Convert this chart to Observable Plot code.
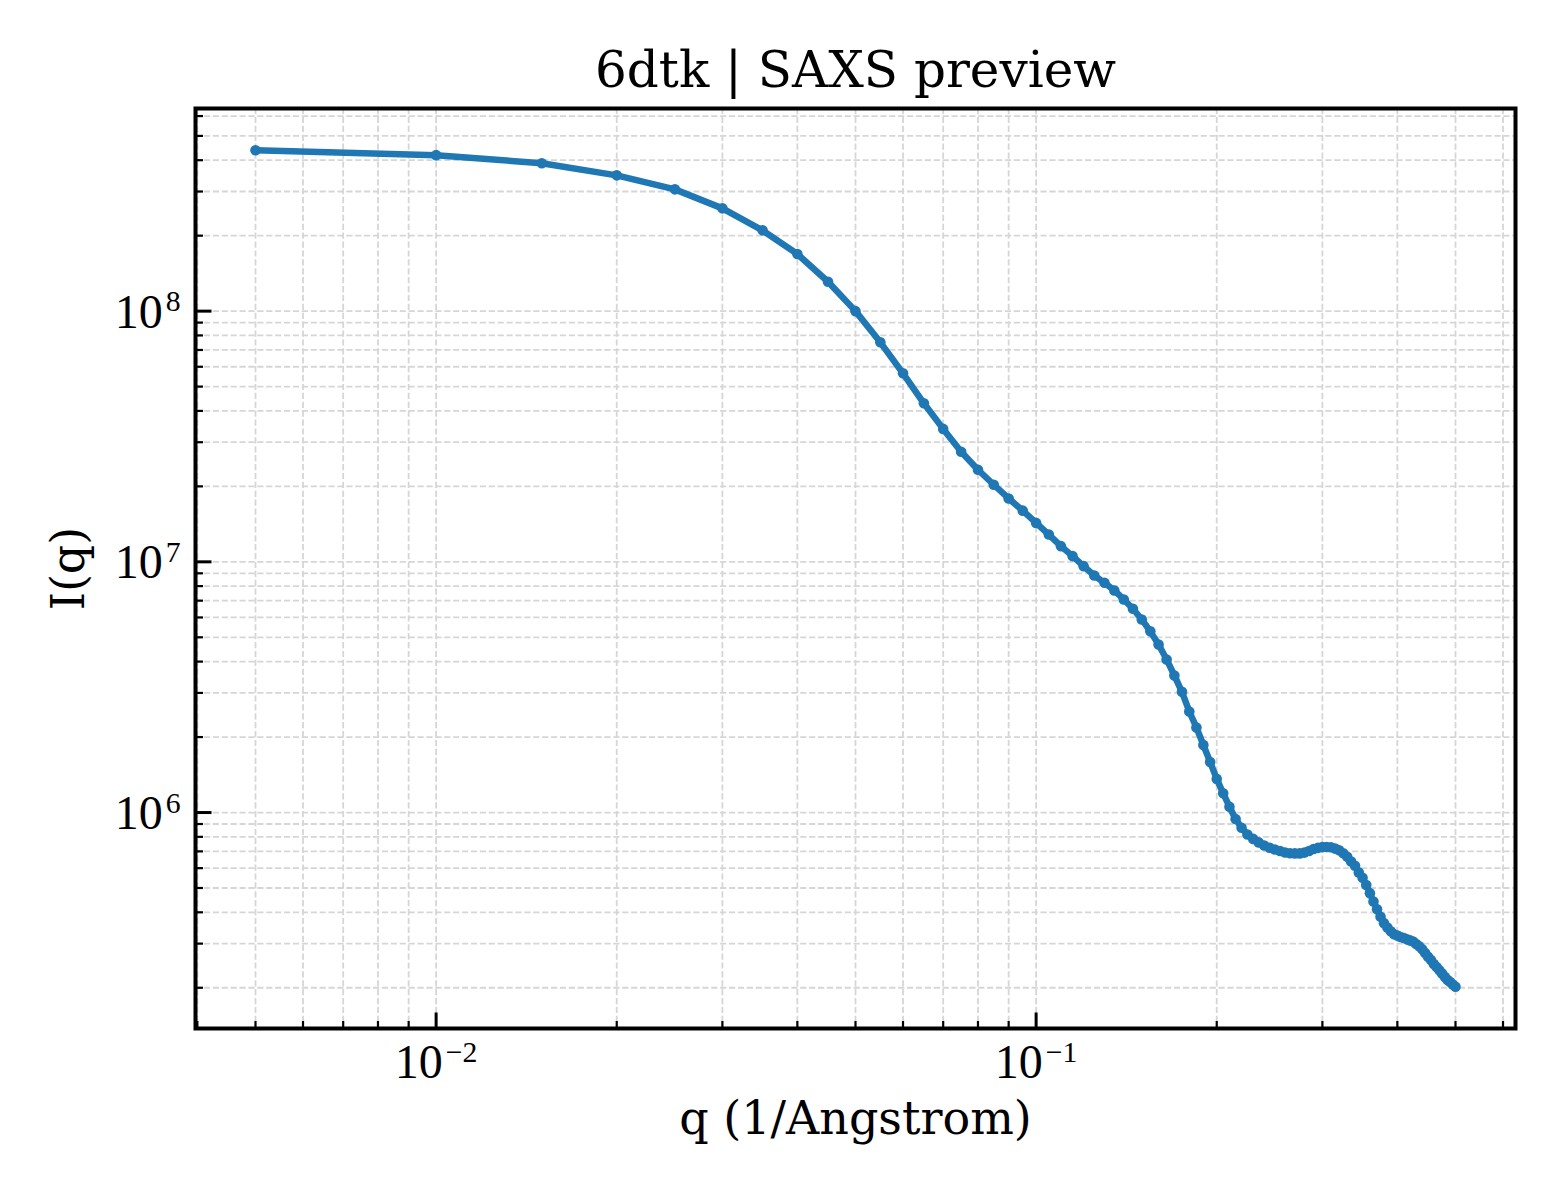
<!DOCTYPE html>
<html>
<head>
<meta charset="utf-8">
<script src="https://cdn.jsdelivr.net/npm/d3@7"></script>
<script src="https://cdn.jsdelivr.net/npm/@observablehq/plot@0.6"></script>
<style>
html, body { margin: 0; padding: 0; background: #ffffff; }
#chart { width: 1560px; height: 1200px; }
</style>
</head>
<body>
<div id="chart"></div>
<script>
// ---- data ----
const q = [
  0.005, 0.010, 0.015, 0.020, 0.025, 0.030, 0.035, 0.040, 0.045, 0.050,
  0.055, 0.060, 0.065, 0.070, 0.075, 0.080, 0.085, 0.090, 0.095, 0.100,
  0.105, 0.110, 0.115, 0.120, 0.125, 0.130, 0.135, 0.140, 0.145, 0.150,
  0.155, 0.160, 0.165, 0.170, 0.175, 0.180, 0.185, 0.190, 0.195, 0.200,
  0.205, 0.210, 0.215, 0.220, 0.225, 0.230, 0.235, 0.240, 0.245, 0.250,
  0.255, 0.260, 0.265, 0.270, 0.275, 0.280, 0.285, 0.290, 0.295, 0.300,
  0.305, 0.310, 0.315, 0.320, 0.325, 0.330, 0.335, 0.340, 0.345, 0.350,
  0.355, 0.360, 0.365, 0.370, 0.375, 0.380, 0.385, 0.390, 0.395, 0.400,
  0.405, 0.410, 0.415, 0.420, 0.425, 0.430, 0.435, 0.440, 0.445, 0.450,
  0.455, 0.460, 0.465, 0.470, 0.475, 0.480, 0.485, 0.490, 0.495, 0.500
];
const intensity = [
  4.38e8, 4.19e8, 3.89e8, 3.48e8, 3.06e8, 2.57e8, 2.10e8, 1.69e8, 1.31e8, 1.00e8,
  7.51e7, 5.65e7, 4.29e7, 3.39e7, 2.75e7, 2.33e7, 2.03e7, 1.79e7, 1.60e7, 1.43e7,
  1.285e7, 1.155e7, 1.054e7, 9.61e6, 8.82e6, 8.25e6, 7.69e6, 7.08e6, 6.50e6, 5.89e6,
  5.28e6, 4.68e6, 4.08e6, 3.52e6, 3.03e6, 2.53e6, 2.185e6, 1.861e6, 1.591e6, 1.362e6,
  1.194e6, 1.055e6, 9.42e5, 8.70e5, 8.17e5, 7.85e5, 7.60e5, 7.39e5, 7.24e5, 7.12e5,
  7.02e5, 6.93e5, 6.88e5, 6.87e5, 6.87e5, 6.92e5, 7.02e5, 7.15e5, 7.23e5, 7.28e5,
  7.29e5, 7.27e5, 7.18e5, 7.07e5, 6.88e5, 6.66e5, 6.38e5, 6.13e5, 5.77e5, 5.49e5,
  5.14e5, 4.77e5, 4.42e5, 4.11e5, 3.84e5, 3.62e5, 3.48e5, 3.36e5, 3.27e5, 3.23e5,
  3.19e5, 3.16e5, 3.12e5, 3.09e5, 3.06e5, 2.99e5, 2.93e5, 2.85e5, 2.75e5, 2.66e5,
  2.58e5, 2.49e5, 2.42e5, 2.35e5, 2.28e5, 2.21e5, 2.15e5, 2.11e5, 2.06e5, 2.02e5
];
const titleText = "6dtk | SAXS preview";
const xLabelText = "q (1/Angstrom)";
const yLabelText = "I(q)";
const xMajorTicks = [0.01, 0.1];
const xTickLabels = ["10^\u22122", "10^\u22121"];
const yMajorTicks = [1e6, 1e7, 1e8];
const yTickLabels = ["10^6", "10^7", "10^8"];

// ---- derived ----
const data = q.map((v, i) => ({q: v, I: intensity[i]}));
function logPad(ext) {
  const a = Math.log10(ext[0]), b = Math.log10(ext[1]), m = (b - a) * 0.05;
  return [Math.pow(10, a - m), Math.pow(10, b + m)];
}
const xDomain = logPad(d3.extent(q));
const yDomain = logPad(d3.extent(intensity));
function logTicks(domain, ks) {
  const out = [];
  for (let e = Math.floor(Math.log10(domain[0])); e <= Math.ceil(Math.log10(domain[1])); e++) {
    for (const k of ks) {
      const v = k * Math.pow(10, e);
      if (v >= domain[0] && v <= domain[1]) out.push(v);
    }
  }
  return out;
}
const allK = [1, 2, 3, 4, 5, 6, 7, 8, 9];
const minorK = [2, 3, 4, 5, 6, 7, 8, 9];
const xGrid = logTicks(xDomain, allK);
const yGrid = logTicks(yDomain, allK);
const xMinor = logTicks(xDomain, minorK);
const yMinor = logTicks(yDomain, minorK);

const tickShape = {draw(context, l) { context.moveTo(0, 0); context.lineTo(0, -l); }};
const gridStyle = {stroke: "#d6d6d6", strokeWidth: 1.8, strokeDasharray: "6.2,2.7"};
const blue = "#1f77b4";

const chart = Plot.plot({
  width: 1560,
  height: 1200,
  marginLeft: 195,
  marginRight: 45,
  marginTop: 108,
  marginBottom: 172,
  style: {fontFamily: "DejaVu Serif", background: "#ffffff", color: "#000000"},
  x: {type: "log", domain: xDomain},
  y: {type: "log", domain: yDomain},
  marks: [
    Plot.ruleX(xGrid, {x: d => d, ...gridStyle}),
    Plot.ruleY(yGrid, {y: d => d, ...gridStyle}),
    Plot.line(data, {x: "q", y: "I", stroke: blue, strokeWidth: 6.5, strokeLinejoin: "round", strokeLinecap: "butt"}),
    Plot.dot(data, {x: "q", y: "I", r: 5.3, fill: blue, stroke: "none"}),
    // inward ticks
    Plot.vector(xMajorTicks, {x: d => d, y: () => yDomain[0], length: 16, rotate: 0, anchor: "start", shape: tickShape, stroke: "black", strokeWidth: 3, strokeLinecap: "butt"}),
    Plot.vector(xMinor, {x: d => d, y: () => yDomain[0], length: 7.5, rotate: 0, anchor: "start", shape: tickShape, stroke: "black", strokeWidth: 2.2, strokeLinecap: "butt"}),
    Plot.vector(yMajorTicks, {x: () => xDomain[0], y: d => d, length: 16, rotate: 90, anchor: "start", shape: tickShape, stroke: "black", strokeWidth: 3, strokeLinecap: "butt"}),
    Plot.vector(yMinor, {x: () => xDomain[0], y: d => d, length: 7.5, rotate: 90, anchor: "start", shape: tickShape, stroke: "black", strokeWidth: 2.2, strokeLinecap: "butt"}),
    Plot.frame({stroke: "black", strokeWidth: 4}),
    // tick labels
    Plot.axisX(xMajorTicks, {tickSize: 0, tickPadding: 15, label: null, fontSize: 48, fontFamily: "Liberation Serif",
      tickFormat: d => xTickLabels[xMajorTicks.indexOf(d)]}),
    Plot.axisY(yMajorTicks, {tickSize: 0, tickPadding: 15, label: null, fontSize: 48, fontFamily: "Liberation Serif", dy: 1,
      tickFormat: d => yTickLabels[yMajorTicks.indexOf(d)]}),
    // title and axis labels
    Plot.text([titleText], {frameAnchor: "top", dy: -22, lineAnchor: "bottom", textAnchor: "middle", fontSize: 50, fontFamily: "DejaVu Serif", fill: "black"}),
    Plot.text([xLabelText], {frameAnchor: "bottom", dy: 105, lineAnchor: "bottom", textAnchor: "middle", fontSize: 46, fontFamily: "DejaVu Serif", fill: "black"}),
    Plot.text([yLabelText], {frameAnchor: "left", dx: -112, rotate: -90, lineAnchor: "bottom", textAnchor: "middle", fontSize: 46, fontFamily: "DejaVu Serif", fill: "black"})
  ]
});

// turn "10^n" tick labels into real superscripts
chart.querySelectorAll("text").forEach(t => {
  const s = t.textContent;
  if (s.indexOf("^") >= 0) {
    const [base, exp] = s.split("^");
    while (t.firstChild) t.removeChild(t.firstChild);
    const b = document.createElementNS("http://www.w3.org/2000/svg", "tspan");
    b.textContent = base;
    const e = document.createElementNS("http://www.w3.org/2000/svg", "tspan");
    e.setAttribute("font-size", "0.62em");
    e.setAttribute("dy", "-0.54em");
    e.setAttribute("dx", "0.1em");
    e.textContent = exp;
    t.appendChild(b);
    t.appendChild(e);
  }
});

document.getElementById("chart").appendChild(chart);
</script>
</body>
</html>
